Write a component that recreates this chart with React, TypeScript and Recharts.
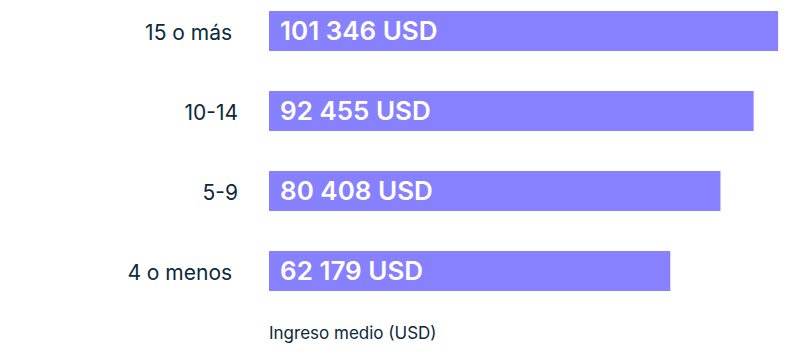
import React from 'react';
import { BarChart, Bar, XAxis, YAxis, LabelList } from 'recharts';

// Categories (years of experience) — trailing spaces as in the source labels
const categories = ['15 o más ', '10-14', '5-9', '4 o menos '];
// Median income in USD
const incomes = [101346, 92455, 80408, 62179];
const xAxisTitle = 'Ingreso medio (USD)';

// Axis domain (bars start at the left edge of the plot)
const X_MIN = -83600;
const X_MAX = 103850;

const data = categories.map((category, i) => ({ category, income: incomes[i] }));

const FONT = "Inter, 'Noto Sans', sans-serif";
const BAR_COLOR = '#8781FF';
const TEXT_COLOR = '#0B2A3C';

const formatUSD = (v: number) =>
  String(v).replace(/\B(?=(\d{3})+(?!\d))/g, ' ') + ' USD';

const CategoryTick = (props: any) => {
  const { y, payload } = props;
  return (
    <text
      x={238}
      y={y + 1}
      textAnchor="end"
      dominantBaseline="central"
      fill={TEXT_COLOR}
      fontSize={21}
      fontFamily={FONT}
      style={{ whiteSpace: 'pre' }}
    >
      {payload.value}
    </text>
  );
};

const AxisTitle = (props: any) => {
  const { viewBox } = props;
  return (
    <text
      x={viewBox.x}
      y={viewBox.y + 22}
      dominantBaseline="central"
      fill={TEXT_COLOR}
      fontSize={17}
      fontFamily={FONT}
    >
      {xAxisTitle}
    </text>
  );
};

export default function App() {
  return (
    <div style={{ position: 'absolute', left: 0, top: 0, width: 792, height: 360, background: '#fff' }}>
      <BarChart
        width={792}
        height={360}
        data={data}
        layout="vertical"
        margin={{ top: -9, right: 7, bottom: 0, left: 0 }}
        barSize={40}
      >
        <XAxis
          type="number"
          domain={[X_MIN, X_MAX]}
          allowDataOverflow
          axisLine={false}
          tickLine={false}
          tick={false}
          height={49}
          label={<AxisTitle />}
        />
        <YAxis
          type="category"
          dataKey="category"
          width={269}
          axisLine={false}
          tickLine={false}
          tick={<CategoryTick />}
        />
        <Bar
          dataKey={(d: any) => [X_MIN, d.income]}
          fill={BAR_COLOR}
          isAnimationActive={false}
        >
          <LabelList
            dataKey="income"
            position="insideLeft"
            offset={11}
            formatter={(v: any) => formatUSD(Number(v))}
            fill="#ffffff"
            fontSize={26}
            fontWeight={600}
            fontFamily={FONT}
          />
        </Bar>
      </BarChart>
    </div>
  );
}
